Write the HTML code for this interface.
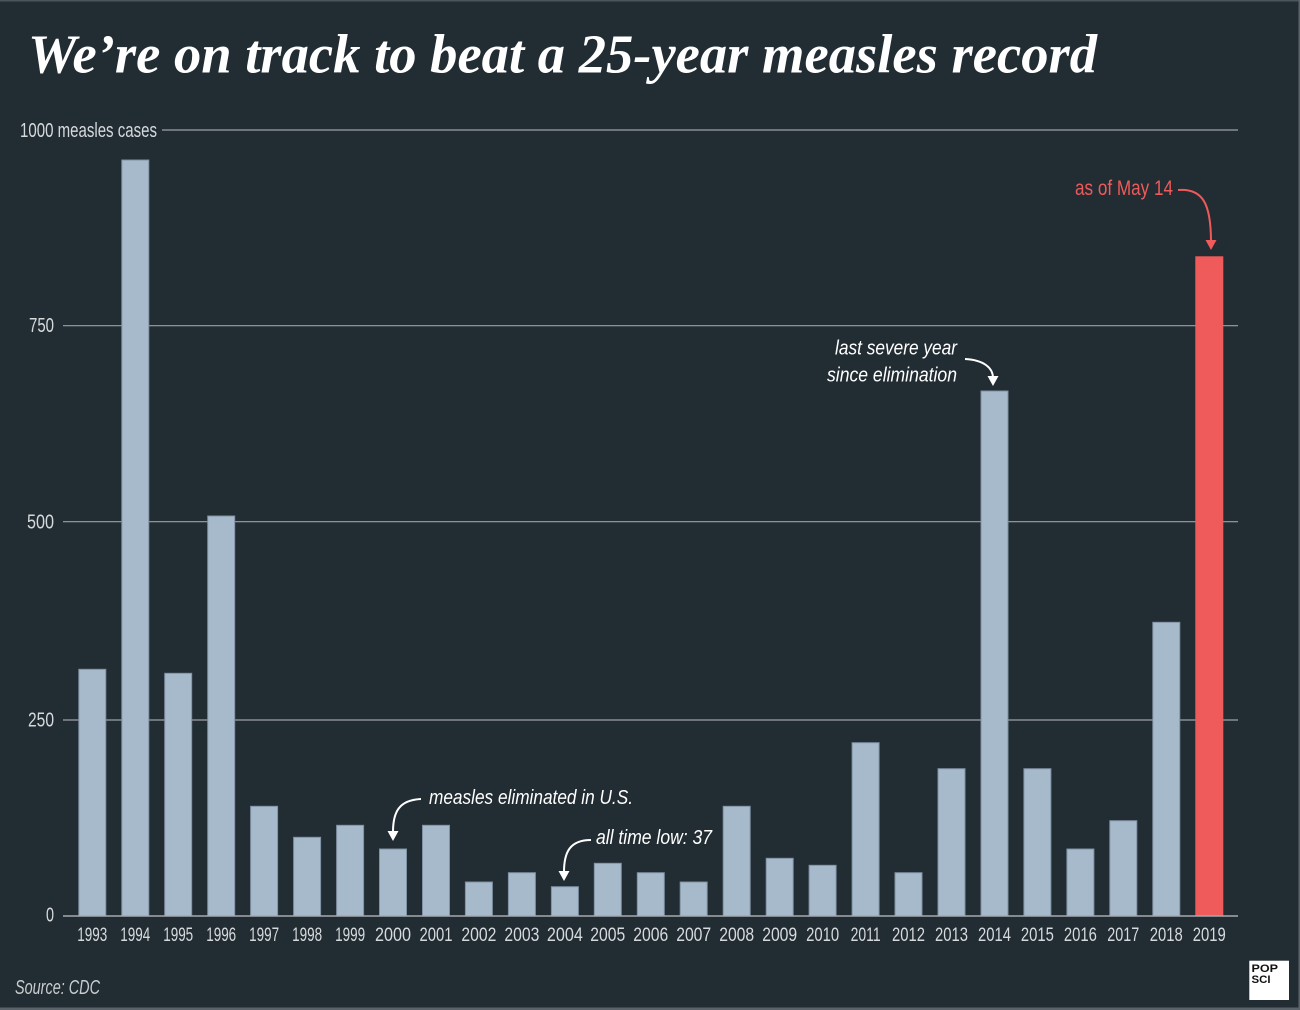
<!DOCTYPE html>
<html>
<head>
<meta charset="utf-8">
<style>
  html,body{margin:0;padding:0;background:#222c33;}
  body{width:1300px;height:1010px;overflow:hidden;}
  svg{display:block;}
  .yr{font-family:"Liberation Sans",sans-serif;font-size:19.5px;fill:#d6dadd;font-weight:300;}
  .ax{font-family:"Liberation Sans",sans-serif;font-size:20px;fill:#d6dadd;}
  .ann{font-family:"Liberation Sans",sans-serif;font-style:italic;font-size:20px;fill:#ffffff;}
</style>
</head>
<body>
<svg width="1300" height="1010" viewBox="0 0 1300 1010" xmlns="http://www.w3.org/2000/svg">
  <rect x="0" y="0" width="1300" height="1010" fill="#222c33"/>
  <!-- borders -->
  <rect x="0" y="0" width="1300" height="1.5" fill="#4c555c"/>
  <rect x="1298.5" y="0" width="1.5" height="1010" fill="#5a6369"/>
  <rect x="0" y="1007.5" width="1300" height="2.5" fill="#5a6369"/>

  <!-- title -->
  <text x="28" y="72.5" textLength="1069" lengthAdjust="spacingAndGlyphs"
        style="font-family:'Liberation Serif',serif;font-weight:bold;font-style:italic;font-size:55px;fill:#ffffff;">We’re on track to beat a 25-year measles record</text>

  <!-- gridlines -->
  <g stroke="#9ca2a7" stroke-width="1.2">
    <line x1="162" y1="130" x2="1238" y2="130"/>
    <line x1="63" y1="325.7" x2="1238" y2="325.7"/>
    <line x1="63" y1="521.7" x2="1238" y2="521.7"/>
    <line x1="63" y1="720" x2="1238" y2="720"/>
  </g>

  <!-- axis labels -->
  <text class="ax" x="20" y="137" textLength="137" lengthAdjust="spacingAndGlyphs">1000 measles cases</text>
  <text class="ax" x="54" y="332" text-anchor="end" textLength="25" lengthAdjust="spacingAndGlyphs">750</text>
  <text class="ax" x="54" y="528.5" text-anchor="end" textLength="27" lengthAdjust="spacingAndGlyphs">500</text>
  <text class="ax" x="54" y="726.5" text-anchor="end" textLength="26" lengthAdjust="spacingAndGlyphs">250</text>
  <text class="ax" x="54" y="921.5" text-anchor="end" textLength="8" lengthAdjust="spacingAndGlyphs">0</text>

  <!-- bars -->
  <g fill="#a7bacb" stroke="#7f91a2" stroke-width="1">
    <rect x="78.8" y="669.3" width="27" height="246.7"/>
    <rect x="121.8" y="160" width="27" height="756"/>
    <rect x="164.7" y="673.3" width="27" height="242.7"/>
    <rect x="207.7" y="516" width="27" height="400"/>
    <rect x="250.6" y="806.3" width="27" height="109.7"/>
    <rect x="293.6" y="837.3" width="27" height="78.7"/>
    <rect x="336.6" y="825.3" width="27" height="90.7"/>
    <rect x="379.5" y="849" width="27" height="67"/>
    <rect x="422.5" y="825.3" width="27" height="90.7"/>
    <rect x="465.4" y="882" width="27" height="34"/>
    <rect x="508.4" y="872.7" width="27" height="43.3"/>
    <rect x="551.4" y="886.7" width="27" height="29.3"/>
    <rect x="594.3" y="863.3" width="27" height="52.7"/>
    <rect x="637.3" y="872.7" width="27" height="43.3"/>
    <rect x="680.2" y="882" width="27" height="34"/>
    <rect x="723.2" y="806.3" width="27" height="109.7"/>
    <rect x="766.2" y="858.3" width="27" height="57.7"/>
    <rect x="809.1" y="865.3" width="27" height="50.7"/>
    <rect x="852.1" y="742.7" width="27" height="173.3"/>
    <rect x="895.0" y="872.7" width="27" height="43.3"/>
    <rect x="938.0" y="768.7" width="27" height="147.3"/>
    <rect x="981.0" y="391" width="27" height="525"/>
    <rect x="1023.9" y="768.7" width="27" height="147.3"/>
    <rect x="1066.9" y="849" width="27" height="67"/>
    <rect x="1109.8" y="820.7" width="27" height="95.3"/>
    <rect x="1152.8" y="622.3" width="27" height="293.7"/>
  </g>
  <rect x="1195.3" y="256.3" width="28" height="659.7" fill="#ef5a5a"/>

  <!-- zero line -->
  <line x1="63" y1="916" x2="1238" y2="916" stroke="#a4aaaf" stroke-width="1.5"/>

  <!-- year labels -->
  <g class="yr" text-anchor="middle">
    <text x="92.3" y="941" textLength="30" lengthAdjust="spacingAndGlyphs">1993</text>
    <text x="135.3" y="941" textLength="30" lengthAdjust="spacingAndGlyphs">1994</text>
    <text x="178.2" y="941" textLength="30" lengthAdjust="spacingAndGlyphs">1995</text>
    <text x="221.2" y="941" textLength="30" lengthAdjust="spacingAndGlyphs">1996</text>
    <text x="264.1" y="941" textLength="30" lengthAdjust="spacingAndGlyphs">1997</text>
    <text x="307.1" y="941" textLength="30" lengthAdjust="spacingAndGlyphs">1998</text>
    <text x="350.1" y="941" textLength="30" lengthAdjust="spacingAndGlyphs">1999</text>
    <text x="393.0" y="941" textLength="36" lengthAdjust="spacingAndGlyphs">2000</text>
    <text x="436.0" y="941" textLength="33" lengthAdjust="spacingAndGlyphs">2001</text>
    <text x="478.9" y="941" textLength="35" lengthAdjust="spacingAndGlyphs">2002</text>
    <text x="521.9" y="941" textLength="35" lengthAdjust="spacingAndGlyphs">2003</text>
    <text x="564.9" y="941" textLength="36" lengthAdjust="spacingAndGlyphs">2004</text>
    <text x="607.8" y="941" textLength="35" lengthAdjust="spacingAndGlyphs">2005</text>
    <text x="650.8" y="941" textLength="35" lengthAdjust="spacingAndGlyphs">2006</text>
    <text x="693.7" y="941" textLength="35" lengthAdjust="spacingAndGlyphs">2007</text>
    <text x="736.7" y="941" textLength="35" lengthAdjust="spacingAndGlyphs">2008</text>
    <text x="779.7" y="941" textLength="35" lengthAdjust="spacingAndGlyphs">2009</text>
    <text x="822.6" y="941" textLength="33" lengthAdjust="spacingAndGlyphs">2010</text>
    <text x="865.6" y="941" textLength="30" lengthAdjust="spacingAndGlyphs">2011</text>
    <text x="908.5" y="941" textLength="33" lengthAdjust="spacingAndGlyphs">2012</text>
    <text x="951.5" y="941" textLength="33" lengthAdjust="spacingAndGlyphs">2013</text>
    <text x="994.5" y="941" textLength="33" lengthAdjust="spacingAndGlyphs">2014</text>
    <text x="1037.4" y="941" textLength="33" lengthAdjust="spacingAndGlyphs">2015</text>
    <text x="1080.4" y="941" textLength="33" lengthAdjust="spacingAndGlyphs">2016</text>
    <text x="1123.3" y="941" textLength="32" lengthAdjust="spacingAndGlyphs">2017</text>
    <text x="1166.3" y="941" textLength="33" lengthAdjust="spacingAndGlyphs">2018</text>
    <text x="1209.3" y="941" textLength="33" lengthAdjust="spacingAndGlyphs">2019</text>
  </g>

  <!-- annotation: as of May 14 -->
  <text x="1075" y="195" textLength="98" lengthAdjust="spacingAndGlyphs"
        style="font-family:'Liberation Sans',sans-serif;font-size:21px;fill:#ef5a5a;">as of May 14</text>
  <path d="M1178,190 C1203,188 1211,204 1211,242" fill="none" stroke="#ef5a5a" stroke-width="2"/>
  <polygon points="1205.5,240 1216.5,240 1211,250" fill="#ef5a5a"/>

  <!-- annotation: last severe year -->
  <text class="ann" x="957" y="354.5" text-anchor="end" textLength="122" lengthAdjust="spacingAndGlyphs">last severe year</text>
  <text class="ann" x="957" y="381.5" text-anchor="end" textLength="130" lengthAdjust="spacingAndGlyphs">since elimination</text>
  <path d="M965,359 C984,360 993,368 993,378" fill="none" stroke="#ffffff" stroke-width="2"/>
  <polygon points="987.5,376 998.5,376 993,386" fill="#ffffff"/>

  <!-- annotation: measles eliminated -->
  <text class="ann" x="429" y="804" textLength="204" lengthAdjust="spacingAndGlyphs">measles eliminated in U.S.</text>
  <path d="M421,799 C399,800 393,812 393,832" fill="none" stroke="#ffffff" stroke-width="2"/>
  <polygon points="387.5,831 398.5,831 393,841" fill="#ffffff"/>

  <!-- annotation: all time low -->
  <text class="ann" x="596" y="844" textLength="116" lengthAdjust="spacingAndGlyphs">all time low: 37</text>
  <path d="M591,840 C570,840 564,852 564,872" fill="none" stroke="#ffffff" stroke-width="2"/>
  <polygon points="558.5,871 569.5,871 564,881" fill="#ffffff"/>

  <!-- source -->
  <text x="15" y="994" textLength="85" lengthAdjust="spacingAndGlyphs"
        style="font-family:'Liberation Sans',sans-serif;font-style:italic;font-size:20px;fill:#c9cdd0;">Source: CDC</text>

  <!-- logo -->
  <rect x="1249.3" y="960.7" width="39.7" height="39.3" fill="#ffffff"/>
  <text x="1251.5" y="971.8" textLength="26.5" lengthAdjust="spacingAndGlyphs"
        style="font-family:'Liberation Sans',sans-serif;font-weight:bold;font-size:11px;fill:#111;">POP</text>
  <text x="1251.5" y="983.2" textLength="19" lengthAdjust="spacingAndGlyphs"
        style="font-family:'Liberation Sans',sans-serif;font-weight:bold;font-size:11px;fill:#111;">SCI</text>
</svg>
</body>
</html>
